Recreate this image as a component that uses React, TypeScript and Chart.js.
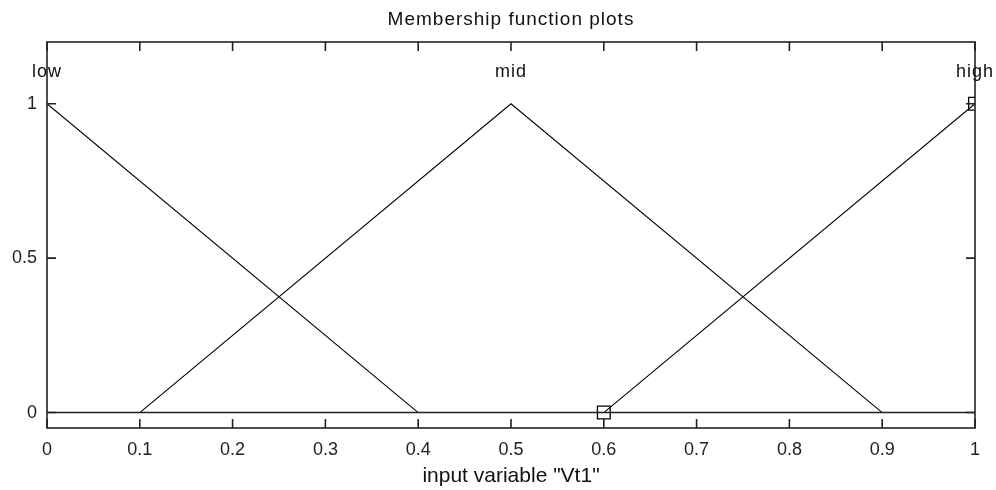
import React, { useEffect, useRef } from "react";
import { Chart, registerables } from "chart.js";

Chart.register(...registerables);

// Membership functions of input variable "Vt1" (triangular MFs)
const mfNames = ["low", "mid", "high"];
const mfPeaks = [0, 0.5, 1];
const lowX = [0, 0.4];
const lowY = [1, 0];
const midX = [0.1, 0.5, 0.9];
const midY = [0, 1, 0];
const highX = [0.6, 1];
const highY = [0, 1];
const baseX = [0, 1];
const baseY = [0, 0];
const xTicks = [0, 0.1, 0.2, 0.3, 0.4, 0.5, 0.6, 0.7, 0.8, 0.9, 1];
const yTicks = [0, 0.5, 1];
const nameLevel = 1.1;

const zip = (xs: number[], ys: number[]) => xs.map((x, i) => ({ x, y: ys[i] }));

const FONT = "'Liberation Sans', Arial, sans-serif";

const framePlugin = {
  id: "matlabFrame",
  afterDatasetsDraw(chart: any) {
    const { ctx, chartArea, scales } = chart;
    const { left, right, top, bottom } = chartArea;
    const xs = scales.x;
    const ys = scales.y;
    ctx.save();
    ctx.strokeStyle = "#222";
    ctx.lineWidth = 1.6;
    ctx.strokeRect(left, top, right - left, bottom - top);
    const tl = 9;
    ctx.beginPath();
    xTicks.forEach((v) => {
      const px = xs.getPixelForValue(v);
      ctx.moveTo(px, bottom);
      ctx.lineTo(px, bottom - tl);
      ctx.moveTo(px, top);
      ctx.lineTo(px, top + tl);
    });
    yTicks.forEach((v) => {
      const py = ys.getPixelForValue(v);
      ctx.moveTo(left, py);
      ctx.lineTo(left + tl, py);
      ctx.moveTo(right, py);
      ctx.lineTo(right - tl, py);
    });
    ctx.stroke();

    // MF names above each peak
    ctx.fillStyle = "#111";
    ctx.font = `18px ${FONT}`;
    ctx.letterSpacing = "1px";
    ctx.textAlign = "center";
    ctx.textBaseline = "alphabetic";
    mfNames.forEach((name, i) => {
      ctx.fillText(name, xs.getPixelForValue(mfPeaks[i]), ys.getPixelForValue(nameLevel) + 4);
    });

    // Plot title
    ctx.font = `19px ${FONT}`;
    ctx.letterSpacing = "1px";
    ctx.fillText("Membership function plots", (left + right) / 2, 25);
    ctx.restore();
  },
};

export default function App() {
  const ref = useRef<HTMLCanvasElement | null>(null);

  useEffect(() => {
    if (!ref.current) return;
    const lineStyle = {
      borderColor: "#000",
      borderWidth: 1.1,
      pointRadius: 0,
      fill: false,
      tension: 0,
    };
    const chart = new Chart(ref.current, {
      type: "line",
      data: {
        datasets: [
          { ...lineStyle, label: "base", data: zip(baseX, baseY), borderWidth: 1.6, borderColor: "#222" },
          { ...lineStyle, label: "low", data: zip(lowX, lowY) },
          { ...lineStyle, label: "mid", data: zip(midX, midY) },
          {
            ...lineStyle,
            label: "high",
            data: zip(highX, highY),
            pointRadius: 9,
            pointStyle: "rect",
            pointBorderColor: "#000",
            pointBorderWidth: 1.3,
            pointBackgroundColor: "rgba(0,0,0,0)",
          },
        ],
      },
      plugins: [framePlugin],
      options: {
        responsive: false,
        animation: false,
        layout: { padding: { top: 42, right: 21, left: 0, bottom: 0 } },
        plugins: {
          legend: { display: false },
          tooltip: { enabled: false },
          title: { display: false },
        },
        scales: {
          x: {
            type: "linear",
            min: 0,
            max: 1,
            afterFit: (s: any) => {
              s.height = 62;
            },
            afterBuildTicks: (s: any) => {
              s.ticks = xTicks.map((v) => ({ value: v }));
            },
            grid: { display: false, drawTicks: false },
            border: { display: false },
            ticks: {
              padding: 11,
              color: "#222",
              font: { family: FONT, size: 18 },
              maxRotation: 0,
              autoSkip: false,
              callback: (v: any) => String(v),
            },
            title: {
              display: true,
              text: 'input variable "Vt1"',
              color: "#111",
              font: { family: FONT, size: 21 },
              padding: { top: 2, bottom: 1 },
            },
          },
          y: {
            type: "linear",
            min: -0.05,
            max: 1.2,
            afterFit: (s: any) => {
              s.width = 47;
            },
            afterBuildTicks: (s: any) => {
              s.ticks = yTicks.map((v) => ({ value: v }));
            },
            grid: { display: false, drawTicks: false },
            border: { display: false },
            ticks: {
              padding: 10,
              color: "#222",
              font: { family: FONT, size: 18 },
              callback: (v: any) => String(v),
            },
          },
        },
      } as any,
    });
    return () => chart.destroy();
  }, []);

  return (
    <div style={{ position: "fixed", left: 0, top: 0, width: 996, height: 490, background: "#fff" }}>
      <canvas ref={ref} width={996} height={490} />
    </div>
  );
}
